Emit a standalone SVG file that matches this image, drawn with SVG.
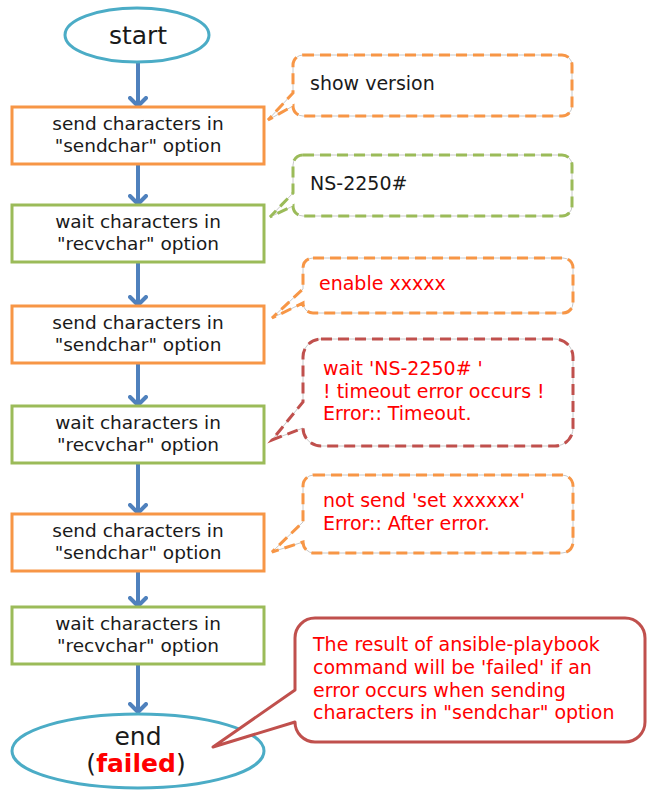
<svg xmlns="http://www.w3.org/2000/svg" xmlns:xlink="http://www.w3.org/1999/xlink" width="648" height="790" viewBox="0 0 648 790">
  <style>
    text { font-family: "DejaVu Sans", Verdana, sans-serif; }
    .term { fill: #ffffff; stroke: #4bacc6; stroke-width: 3; }
    .send { fill: #ffffff; stroke: #f79646; stroke-width: 3; }
    .wait { fill: #ffffff; stroke: #9bbb59; stroke-width: 3; }
    .label { font-size: 18.5px; fill: #1a1a1a; text-anchor: middle; }
    .big { font-size: 25px; fill: #1a1a1a; text-anchor: middle; }
    .note { font-size: 19px; fill: #1a1a1a; }
    .err { font-size: 19px; fill: #ff0000; }
    .under { fill: #ffffff; stroke: #c8c8c8; stroke-width: 1; }
    .dash { fill: none; stroke-width: 3; stroke-dasharray: 11 6; }
    .orange { stroke: #f79646; }
    .green { stroke: #9bbb59; }
    .red { stroke: #c0504d; }
    .flow { stroke: #4f81bd; stroke-width: 4; fill: none; marker-end: url(#head); }
  </style>
  <defs>
    <marker id="head" viewBox="0 0 12 20" refX="10" refY="10" markerWidth="12" markerHeight="20" markerUnits="userSpaceOnUse" orient="auto">
      <path d="M2 2 L10 10 L2 18" fill="none" stroke="#4f81bd" stroke-width="4" stroke-linejoin="round" stroke-linecap="round"/>
    </marker>
    <!-- callout outlines (rounded box with a pointer on the left side) -->
    <path id="c1" d="M303 55 H562 A10 10 0 0 1 572 65 V106 A10 10 0 0 1 562 116 H303 A10 10 0 0 1 293 106 L268 120 L293 93 V65 A10 10 0 0 1 303 55 Z"/>
    <path id="c2" d="M303 155 H562 A10 10 0 0 1 572 165 V206 A10 10 0 0 1 562 216 H303 A10 10 0 0 1 293 206 L270 217 L293 193 V165 A10 10 0 0 1 303 155 Z"/>
    <path id="c3" d="M313 258 H563 A10 10 0 0 1 573 268 V303 A10 10 0 0 1 563 313 H313 A10 10 0 0 1 303 303 L272 318 L303 289 V268 A10 10 0 0 1 313 258 Z"/>
    <path id="c4" d="M321 339 H555 A18 18 0 0 1 573 357 V428 A18 18 0 0 1 555 446 H321 A18 18 0 0 1 303 428 L272 440 L303 402 V357 A18 18 0 0 1 321 339 Z"/>
    <path id="c5" d="M314 475 H562 A11 11 0 0 1 573 486 V542 A11 11 0 0 1 562 553 H314 A11 11 0 0 1 303 542 L272 552 L303 522 V486 A11 11 0 0 1 314 475 Z"/>
  </defs>

  <!-- flow connectors -->
  <g id="connectors">
    <line class="flow" x1="138" y1="62" x2="138" y2="106"/>
    <line class="flow" x1="138" y1="165" x2="138" y2="204"/>
    <line class="flow" x1="138" y1="263" x2="138" y2="305"/>
    <line class="flow" x1="138" y1="364" x2="138" y2="405"/>
    <line class="flow" x1="138" y1="464" x2="138" y2="513"/>
    <line class="flow" x1="138" y1="572" x2="138" y2="606"/>
    <line class="flow" x1="138" y1="665" x2="138" y2="712"/>
  </g>

  <g id="start">
    <ellipse class="term" cx="137" cy="35" rx="72" ry="27"/>
    <text class="big" x="138" y="44">start</text>
  </g>

  <g id="send1">
    <rect class="send" x="12" y="107" width="252" height="57"/>
    <text class="label" x="138" y="130">send characters in</text>
    <text class="label" x="138" y="152">"sendchar" option</text>
  </g>

  <g id="wait1">
    <rect class="wait" x="12" y="205" width="252" height="57"/>
    <text class="label" x="138" y="228">wait characters in</text>
    <text class="label" x="138" y="250">"recvchar" option</text>
  </g>

  <g id="send2">
    <rect class="send" x="12" y="306" width="252" height="57"/>
    <text class="label" x="138" y="329">send characters in</text>
    <text class="label" x="138" y="351">"sendchar" option</text>
  </g>

  <g id="wait2">
    <rect class="wait" x="12" y="406" width="252" height="57"/>
    <text class="label" x="138" y="429">wait characters in</text>
    <text class="label" x="138" y="451">"recvchar" option</text>
  </g>

  <g id="send3">
    <rect class="send" x="12" y="514" width="252" height="57"/>
    <text class="label" x="138" y="537">send characters in</text>
    <text class="label" x="138" y="559">"sendchar" option</text>
  </g>

  <g id="wait3">
    <rect class="wait" x="12" y="607" width="252" height="57"/>
    <text class="label" x="138" y="630">wait characters in</text>
    <text class="label" x="138" y="652">"recvchar" option</text>
  </g>

  <g id="end">
    <ellipse class="term" cx="138" cy="751" rx="126" ry="37"/>
    <text class="big" x="138" y="745">end</text>
    <text class="big" x="136" y="772">(<tspan font-weight="bold" fill="#ff0000">failed</tspan>)</text>
  </g>

  <!-- callouts -->
  <g id="note-sendchar1">
    <use xlink:href="#c1" class="under"/>
    <use xlink:href="#c1" class="dash orange"/>
    <text class="note" x="310" y="90">show version</text>
  </g>

  <g id="note-recvchar1">
    <use xlink:href="#c2" class="under"/>
    <use xlink:href="#c2" class="dash green"/>
    <text class="note" x="310" y="190">NS-2250#</text>
  </g>

  <g id="note-sendchar2">
    <use xlink:href="#c3" class="under"/>
    <use xlink:href="#c3" class="dash orange"/>
    <text class="err" x="319" y="290">enable xxxxx</text>
  </g>

  <g id="note-recvchar2">
    <use xlink:href="#c4" class="under"/>
    <use xlink:href="#c4" class="dash red"/>
    <text class="err" x="323" y="375">wait 'NS-2250# '</text>
    <text class="err" x="323" y="398">! timeout error occurs !</text>
    <text class="err" x="323" y="420">Error:: Timeout.</text>
  </g>

  <g id="note-sendchar3">
    <use xlink:href="#c5" class="under"/>
    <use xlink:href="#c5" class="dash orange"/>
    <text class="err" x="323" y="507">not send 'set xxxxxx'</text>
    <text class="err" x="323" y="530">Error:: After error.</text>
  </g>

  <g id="note-result">
    <path d="M315 618 H625 A20 20 0 0 1 645 638 V722 A20 20 0 0 1 625 742 H315 A20 20 0 0 1 295 722 L213 747 L295 690 V638 A20 20 0 0 1 315 618 Z" fill="#ffffff" stroke="#c0504d" stroke-width="3" stroke-linejoin="round"/>
    <text class="err" x="313" y="651">The result of ansible-playbook</text>
    <text class="err" x="313" y="674">command will be 'failed' if an</text>
    <text class="err" x="313" y="697">error occurs when sending</text>
    <text class="err" x="313" y="719">characters in "sendchar" option</text>
  </g>
</svg>
